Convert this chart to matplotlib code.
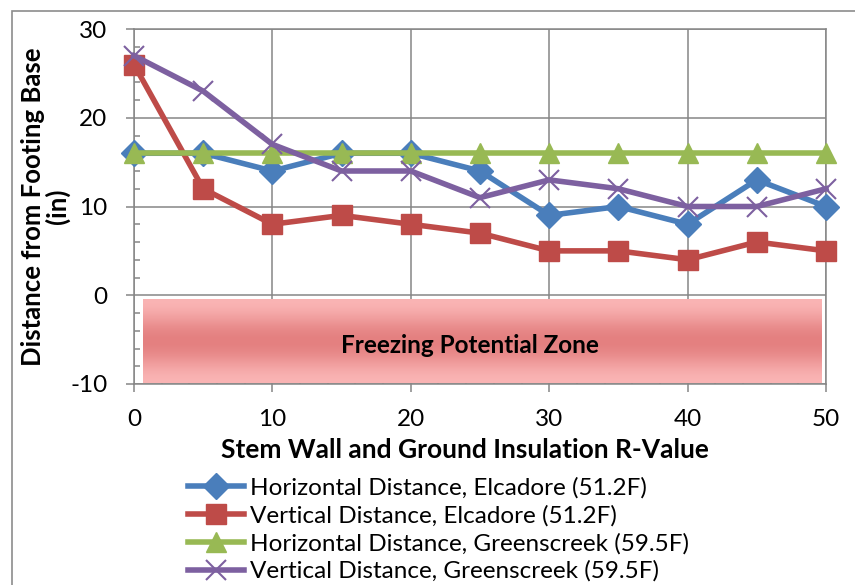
import numpy as np
import matplotlib.pyplot as plt
from matplotlib.patches import Rectangle

plt.rcParams['font.family'] = ['Lato', 'DejaVu Sans']

r_value = [0, 5, 10, 15, 20, 25, 30, 35, 40, 45, 50]
horiz_elcadore = [16, 16, 14, 16, 16, 14, 9, 10, 8, 13, 10]
vert_elcadore = [26, 12, 8, 9, 8, 7, 5, 5, 4, 6, 5]
horiz_greens = [16, 16, 16, 16, 16, 16, 16, 16, 16, 16, 16]
vert_greens = [27, 23, 17, 14, 14, 11, 13, 12, 10, 10, 12]

labels = ['Horizontal Distance, Elcadore (51.2F)',
          'Vertical Distance, Elcadore (51.2F)',
          'Horizontal Distance, Greenscreek (59.5F)',
          'Vertical Distance, Greenscreek (59.5F)']

fig = plt.figure(figsize=(8.55, 5.85), dpi=100)
# outer chart frame (cut off at right/bottom like the reference)
fig.patches.append(Rectangle((12/855, -0.1), 2, 1 - 11/585 + 0.1, transform=fig.transFigure,
                             fill=False, edgecolor='#8c8c8c', lw=1.2))
ax = fig.add_axes([134/855, 1 - 384/585, (826 - 134)/855, (384 - 29)/585])

ax.set_xlim(0, 50)
ax.set_ylim(-10, 30)
ax.set_xticks([0, 10, 20, 30, 40, 50])
ax.set_yticks([-10, 0, 10, 20, 30])
ax.set_yticklabels(['-10', '0', '10', '20', '30'])
ax.set_xticks(np.arange(0, 51, 2), minor=True)
ax.set_yticks(np.arange(-10, 31, 2), minor=True)
ax.grid(True, which='major', color='#868686', lw=1.1)
ax.set_axisbelow(True)
for s in ax.spines.values():
    s.set_color('#868686')
    s.set_linewidth(1.1)
ax.tick_params(which='major', direction='out', length=6, color='#868686', labelsize=17.5, width=1.1)
ax.tick_params(axis='x', which='major', pad=12)
ax.tick_params(axis='y', which='major', pad=13)
ax.tick_params(which='minor', direction='in', length=4, color='#868686', width=1.1)

# freezing zone with vertical gradient
t = np.linspace(0, 1, 200)
shade = np.cos((t - 0.5) * np.pi) ** 2
top = np.array([250, 180, 180]) / 255
mid = np.array([228, 128, 128]) / 255
grad = top[None, :] * (1 - shade[:, None]) + mid[None, :] * shade[:, None]
grad = np.repeat(grad[:, None, :], 2, axis=1)
ax.imshow(grad, extent=[0.65, 49.7, -9.85, -0.45], aspect='auto', zorder=1.5, origin='upper')
ax.text(24.3, -5.7, 'Freezing Potential Zone', ha='center', va='center',
        fontsize=17.5, fontweight='bold', zorder=3)

ax.plot(r_value, horiz_elcadore, color='#4A7EBB', lw=4, marker='D', ms=13, label=labels[0], zorder=4)
ax.plot(r_value, vert_elcadore, color='#BE4B48', lw=4, marker='s', ms=14, label=labels[1], zorder=4)
ax.plot(r_value, horiz_greens, color='#98B954', lw=4, marker='^', ms=15, label=labels[2], zorder=4)
ax.plot(r_value, vert_greens, color='#7D60A0', lw=4, marker='x', ms=15, mew=1.5, label=labels[3], zorder=4)
for ln in ax.lines:
    ln.set_clip_on(False)

ax.set_ylabel('Distance from Footing Base\n(in)', fontsize=18.5, fontweight='bold',
              labelpad=0, linespacing=1.0)
ax.set_xlabel('Stem Wall and Ground Insulation R-Value', fontsize=19, fontweight='bold')
ax.xaxis.set_label_coords((465 - 134) / 692, (384 - 438) / 355)

fig.legend(loc='upper left', bbox_to_anchor=(188/855, 1 - 477/585), frameon=False,
           fontsize=17.5, handlelength=2.3, handletextpad=0.25, labelspacing=0.26,
           borderaxespad=0, borderpad=0)

fig.savefig('out.png', dpi=100)
